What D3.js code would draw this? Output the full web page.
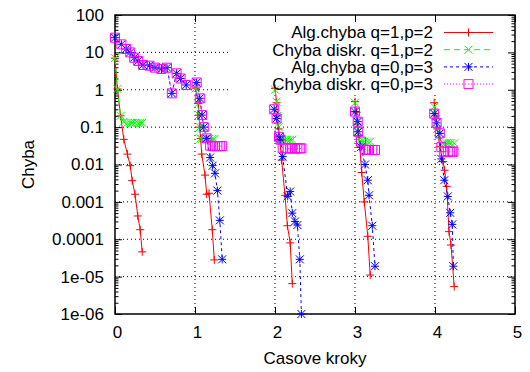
<!DOCTYPE html>
<html>
<head>
<meta charset="utf-8">
<script src="https://cdn.jsdelivr.net/npm/d3@7"></script>
<style>
  body { margin: 0; background: #fff; }
  svg { display: block; font-family: "Liberation Sans", Arial, sans-serif; }
</style>
</head>
<body>
<svg width="530" height="372"></svg>
<script>
const xTicks = [0, 1, 2, 3, 4, 5];
const yTicks = [100, 10, 1, 0.1, 0.01, 0.001, 0.0001, 1e-5, 1e-6];
const yTickLabels = ["100", "10", "1", "0.1", "0.01", "0.001", "0.0001", "1e-05", "1e-06"];
const seriesNames = ["Alg.chyba q=1,p=2", "Chyba diskr. q=1,p=2", "Alg.chyba q=0,p=3", "Chyba diskr. q=0,p=3"];

// one row per time step, [x, error]
const alg12 = [
  [[0, 7], [0.03, 1.05], [0.07, 0.2], [0.11, 0.047], [0.155, 0.019], [0.19, 0.0093], [0.215, 0.0037], [0.25, 0.0016], [0.285, 4.2e-4], [0.315, 1.8e-4], [0.34, 4.6e-5]],
  [[1.01, 1.1], [1.04, 0.43], [1.05, 0.21], [1.06, 0.1], [1.07, 0.05], [1.084, 0.019], [1.125, 0.0052], [1.146, 0.0016], [1.175, 0.0017], [1.216, 1.8e-4], [1.241, 2.8e-5]],
  [[2.0, 1.09], [2.02, 0.45], [2.03, 0.2], [2.045, 0.09], [2.06, 0.045], [2.083, 0.0131], [2.125, 0.0015], [2.155, 2.3e-4], [2.19, 8e-5], [2.216, 6.5e-6]],
  [[3.0, 0.48], [3.02, 0.25], [3.03, 0.12], [3.045, 0.06], [3.06, 0.029], [3.084, 0.0061], [3.116, 0.001], [3.16, 1.2e-4], [3.19, 1.1e-5]],
  [[3.99, 0.45], [4.01, 0.2], [4.03, 0.09], [4.06, 0.03], [4.1, 0.012], [4.12, 0.007], [4.146, 0.0026], [4.175, 1.6e-4], [4.2, 7e-5], [4.24, 5.4e-6]]
];
const disc12 = [
  [[0, 7], [0.03, 1.05], [0.07, 0.2], [0.11, 0.14], [0.155, 0.13], [0.19, 0.13], [0.215, 0.13], [0.25, 0.13], [0.285, 0.13], [0.315, 0.13], [0.34, 0.13]],
  [[1.01, 1.1], [1.04, 0.43], [1.05, 0.21], [1.06, 0.1], [1.07, 0.05], [1.084, 0.048], [1.125, 0.048], [1.146, 0.048], [1.175, 0.048], [1.216, 0.048], [1.241, 0.048]],
  [[2.0, 1.0], [2.02, 0.48], [2.03, 0.2], [2.045, 0.1], [2.06, 0.05], [2.083, 0.046], [2.125, 0.046], [2.155, 0.046], [2.19, 0.046], [2.216, 0.046]],
  [[3.0, 0.45], [3.02, 0.14], [3.03, 0.075], [3.045, 0.05], [3.06, 0.041], [3.084, 0.041], [3.116, 0.041], [3.16, 0.041], [3.19, 0.041]],
  [[3.99, 0.35], [4.01, 0.2], [4.03, 0.09], [4.06, 0.045], [4.1, 0.037], [4.12, 0.037], [4.146, 0.037], [4.175, 0.037], [4.2, 0.037], [4.24, 0.037]]
];
const alg03 = [
  [[0, 24.7], [0.08, 16.4], [0.14, 12.3], [0.19, 10.0], [0.24, 7.2], [0.29, 5.9], [0.35, 4.6], [0.43, 4.4], [0.5, 3.9], [0.58, 3.6], [0.65, 3.9], [0.71, 0.8], [0.77, 2.75], [0.82, 2.0], [0.89, 1.34]],
  [[1.021, 1.56], [1.06, 0.59], [1.087, 0.21], [1.11, 0.1], [1.146, 0.05], [1.19, 0.0154], [1.22, 0.0093], [1.25, 0.0058], [1.28, 0.002], [1.31, 3.2e-4], [1.34, 2.9e-5]],
  [[1.99, 0.3], [2.02, 0.17], [2.05, 0.055], [2.07, 0.046], [2.096, 0.0163], [2.159, 0.0014], [2.19, 0.0019], [2.216, 5e-4], [2.25, 3e-4], [2.28, 2.4e-4], [2.31, 2.9e-5], [2.33, 1e-6]],
  [[3.0, 0.26], [3.034, 0.14], [3.04, 0.075], [3.075, 0.029], [3.125, 0.01], [3.16, 0.0038], [3.175, 0.0015], [3.216, 2.3e-4], [3.25, 1.9e-5]],
  [[3.99, 0.23], [4.02, 0.13], [4.06, 0.068], [4.08, 0.0141], [4.116, 0.0038], [4.16, 0.0014], [4.19, 5.1e-4], [4.216, 2.5e-4], [4.23, 1.9e-5]]
];
const disc03 = [
  [[0, 24.7], [0.08, 16.4], [0.14, 12.3], [0.19, 10.0], [0.24, 7.2], [0.29, 5.9], [0.35, 4.6], [0.43, 4.4], [0.5, 3.9], [0.58, 3.6], [0.65, 3.9], [0.71, 0.8], [0.77, 2.75], [0.82, 2.0], [0.89, 1.34]],
  [[1.021, 1.56], [1.06, 0.59], [1.087, 0.21], [1.11, 0.1], [1.146, 0.05], [1.19, 0.032], [1.22, 0.031], [1.25, 0.031], [1.28, 0.031], [1.31, 0.031], [1.34, 0.031]],
  [[1.99, 0.3], [2.02, 0.17], [2.05, 0.055], [2.07, 0.046], [2.096, 0.028], [2.159, 0.027], [2.19, 0.027], [2.216, 0.027], [2.25, 0.027], [2.28, 0.027], [2.31, 0.027], [2.33, 0.027]],
  [[3.0, 0.26], [3.034, 0.14], [3.04, 0.075], [3.075, 0.041], [3.125, 0.025], [3.16, 0.0245], [3.175, 0.0245], [3.216, 0.0245], [3.25, 0.0245]],
  [[3.99, 0.23], [4.02, 0.13], [4.06, 0.068], [4.08, 0.029], [4.116, 0.022], [4.16, 0.022], [4.19, 0.022], [4.216, 0.022], [4.23, 0.022]]
];

const pL = 115, pR = 515, pT = 15, pB = 314;
const x = d3.scaleLinear().domain([0, 5]).range([pL, pR]);
const y = d3.scaleLog().domain([1e-6, 100]).range([pB, pT]);

const svg = d3.select("svg");
const font = 17;

// grid
const grid = svg.append("g")
  .attr("stroke", "#000")
  .attr("stroke-width", 1)
  .attr("stroke-dasharray", "1,3");
grid.selectAll(".gx").data(xTicks.slice(1, -1)).join("line")
  .attr("class", "gx")
  .attr("x1", d => x(d)).attr("x2", d => x(d))
  .attr("y1", pT).attr("y2", pB);
grid.selectAll(".gy").data(yTicks.slice(1, -1)).join("line")
  .attr("class", "gy")
  .attr("x1", pL).attr("x2", pR)
  .attr("y1", d => y(d)).attr("y2", d => y(d));

// key area is kept clear of grid
svg.append("rect")
  .attr("x", 228).attr("y", pT)
  .attr("width", pR - 228).attr("height", 78)
  .attr("fill", "#fff");

// minor log ticks
let minor = [];
for (let e = -6; e < 2; e++) {
  for (let m = 2; m <= 9; m++) minor.push(m * Math.pow(10, e));
}

let yAxis = d3.axisLeft(y).tickValues(yTicks).tickFormat((d, i) => yTickLabels[i])
  .tickSize(-7).tickPadding(11);
svg.append("g").attr("transform", `translate(${pL},0)`).call(yAxis);
svg.append("g").attr("transform", `translate(${pL},0)`)
  .call(d3.axisLeft(y).tickValues(minor).tickFormat("").tickSize(-3.5));
svg.append("g").attr("transform", `translate(${pR},0)`)
  .call(d3.axisRight(y).tickValues(yTicks).tickFormat("").tickSize(-7));
svg.append("g").attr("transform", `translate(${pR},0)`)
  .call(d3.axisRight(y).tickValues(minor).tickFormat("").tickSize(-3.5));

let gx = svg.append("g").attr("transform", `translate(0,${pB})`)
  .call(d3.axisBottom(x).tickValues(xTicks).tickFormat(d3.format("d")).tickSize(-7).tickPadding(12));
svg.append("g").attr("transform", `translate(0,${pT})`)
  .call(d3.axisTop(x).tickValues(xTicks).tickFormat("").tickSize(-7));

svg.selectAll(".domain").remove();
svg.selectAll(".tick line").attr("stroke", "#000");
svg.selectAll(".tick text").attr("font-size", font).attr("fill", "#000");
svg.selectAll("g").attr("font-family", null);
gx.selectAll(".tick text").attr("x", 2);

svg.append("rect")
  .attr("x", pL).attr("y", pT)
  .attr("width", pR - pL).attr("height", pB - pT)
  .attr("fill", "none").attr("stroke", "#000").attr("stroke-width", 1.5);

// axis titles
svg.append("text")
  .attr("x", (pL + pR) / 2).attr("y", 364)
  .attr("text-anchor", "middle").attr("font-size", font)
  .text("Casove kroky");
svg.append("text")
  .attr("transform", `translate(28,${(pT + pB) / 2}) rotate(-90)`)
  .attr("text-anchor", "middle").attr("dy", "0.35em").attr("font-size", font)
  .text("Chyba");

// series
function marker(type, r) {
  if (type === "plus") return `M${-r},0H${r}M0,${-r}V${r}`;
  if (type === "cross") return `M${-r},${-r}L${r},${r}M${-r},${r}L${r},${-r}`;
  if (type === "star") return `M${-r},0H${r}M0,${-r}V${r}M${-r},${-r}L${r},${r}M${-r},${r}L${r},${-r}`;
  return `M${-r},${-r}H${r}V${r}H${-r}Z`;
}

const styles = [
  { data: alg12, color: "#ff0000", dash: null, mark: "plus", r: 4 },
  { data: disc12, color: "#00ff00", dash: "6,4", mark: "cross", r: 4 },
  { data: alg03, color: "#0000ff", dash: "3,3", mark: "star", r: 4 },
  { data: disc03, color: "#ff00ff", dash: "1,2", mark: "square", r: 4.5 }
];

const line = d3.line().x(d => x(d[0])).y(d => y(d[1]));

styles.forEach(s => {
  let g = svg.append("g");
  g.selectAll("path.seg").data(s.data).join("path")
    .attr("class", "seg")
    .attr("d", line)
    .attr("fill", "none")
    .attr("stroke", s.color)
    .attr("stroke-width", 1)
    .attr("stroke-dasharray", s.dash);
  g.selectAll("path.pt").data(s.data.flat()).join("path")
    .attr("class", "pt")
    .attr("transform", d => `translate(${x(d[0])},${y(d[1])})`)
    .attr("d", marker(s.mark, s.r))
    .attr("fill", "none")
    .attr("stroke", s.color)
    .attr("stroke-width", 1);
});

// key
const key = svg.append("g");
styles.forEach((s, i) => {
  let cy = 32.5 + i * 17.2;
  key.append("text")
    .attr("x", 433).attr("y", cy).attr("dy", "0.35em")
    .attr("text-anchor", "end").attr("font-size", font)
    .text(seriesNames[i]);
  key.append("line")
    .attr("x1", 444).attr("x2", 493).attr("y1", cy).attr("y2", cy)
    .attr("stroke", s.color).attr("stroke-width", 1)
    .attr("stroke-dasharray", s.dash);
  key.append("path")
    .attr("transform", `translate(468.5,${cy})`)
    .attr("d", marker(s.mark, s.r))
    .attr("fill", "none").attr("stroke", s.color);
});
</script>
</body>
</html>
